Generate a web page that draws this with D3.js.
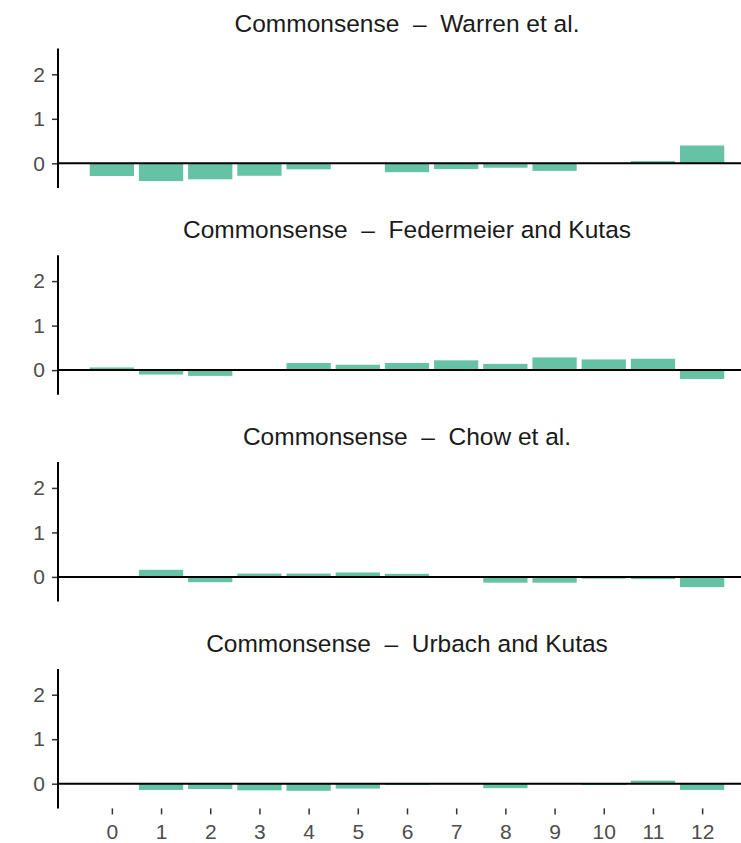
<!DOCTYPE html>
<html>
<head>
<meta charset="utf-8">
<script src="https://cdn.jsdelivr.net/npm/d3@7"></script>
<style>
  html, body { margin: 0; padding: 0; background: #fff; }
  svg { display: block; font-family: "Liberation Sans", Arial, sans-serif; }
</style>
</head>
<body>
<svg id="chart" width="741" height="843"></svg>
<script>
// ---- data ----
const categories = [0, 1, 2, 3, 4, 5, 6, 7, 8, 9, 10, 11, 12];
const panelTitles = [
  "Commonsense  \u2013  Warren et al.",
  "Commonsense  \u2013  Federmeier and Kutas",
  "Commonsense  \u2013  Chow et al.",
  "Commonsense  \u2013  Urbach and Kutas"
];
const warren     = [-0.285, -0.40, -0.36, -0.28, -0.135, 0, -0.20, -0.13, -0.10, -0.17, 0, 0.05, 0.40];
const federmeier = [0.06, -0.10, -0.13, 0, 0.16, 0.12, 0.16, 0.22, 0.14, 0.285, 0.24, 0.255, -0.20];
const chow       = [0, 0.16, -0.12, 0.075, 0.075, 0.10, 0.07, 0, -0.13, -0.13, -0.04, -0.05, -0.23];
const urbach     = [0, -0.14, -0.12, -0.15, -0.16, -0.11, -0.03, 0, -0.10, 0, -0.03, 0.07, -0.14];
const seriesValues = [warren, federmeier, chow, urbach];
const yTicks = [0, 1, 2];
const xTickLabels = categories.map(String);

// ---- layout ----
const svg = d3.select("#chart");
const panelLeft = 58, panelRight = 756;
const panelTop0 = 48.5, panelH = 139.5, panelGap = 206.8;
const barColor = "#66c2a5";
const barWidth = 0.9;

const x = d3.scaleLinear().domain([-1.095, 13.095]).range([panelLeft, panelRight]);

seriesValues.forEach((vals, i) => {
  const top = panelTop0 + i * panelGap;
  const y = d3.scaleLinear().domain([-0.555, 2.58]).range([top + panelH, top]);
  const g = svg.append("g");

  // title
  g.append("text")
    .attr("x", (panelLeft + panelRight) / 2)
    .attr("y", top - 17)
    .attr("text-anchor", "middle")
    .style("white-space", "pre")
    .attr("font-size", 24.5)
    .attr("fill", "#1a1a1a")
    .text(panelTitles[i]);

  // bars
  g.selectAll("rect.bar").data(vals.map((v, k) => ({ c: categories[k], v })))
    .join("rect")
    .attr("class", "bar")
    .attr("x", d => x(d.c - barWidth / 2))
    .attr("width", d => x(d.c + barWidth / 2) - x(d.c - barWidth / 2))
    .attr("y", d => y(Math.max(0, d.v)))
    .attr("height", d => Math.abs(y(d.v) - y(0)))
    .attr("fill", barColor);

  // zero line
  g.append("line")
    .attr("x1", panelLeft).attr("x2", panelRight)
    .attr("y1", y(0)).attr("y2", y(0))
    .attr("stroke", "#000").attr("stroke-width", 2);

  // y axis
  const yAxis = d3.axisLeft(y).tickValues(yTicks).tickSize(6).tickPadding(7).tickFormat(d3.format("d"));
  const ya = g.append("g").attr("transform", `translate(${panelLeft},0)`).call(yAxis);
  ya.select(".domain").remove();
  ya.selectAll(".tick line").attr("stroke", "#333").attr("stroke-width", 1.5);
  ya.selectAll(".tick text").attr("font-size", 21).attr("fill", "#4d4d4d")
    .attr("font-family", "Liberation Sans, Arial, sans-serif");
  g.append("line")
    .attr("x1", panelLeft).attr("x2", panelLeft)
    .attr("y1", top).attr("y2", top + panelH)
    .attr("stroke", "#000").attr("stroke-width", 2);

  // x axis only on bottom panel
  if (i === seriesValues.length - 1) {
    const xAxis = d3.axisBottom(x).tickValues(categories).tickSize(6).tickPadding(10)
      .tickFormat((d, k) => xTickLabels[k]);
    const xa = g.append("g").attr("transform", `translate(0,${top + panelH})`).call(xAxis);
    xa.select(".domain").remove();
    xa.selectAll(".tick line").attr("stroke", "#333").attr("stroke-width", 1.5);
    xa.selectAll(".tick text").attr("font-size", 21).attr("fill", "#4d4d4d")
      .attr("font-family", "Liberation Sans, Arial, sans-serif");
  }
});
</script>
</body>
</html>
